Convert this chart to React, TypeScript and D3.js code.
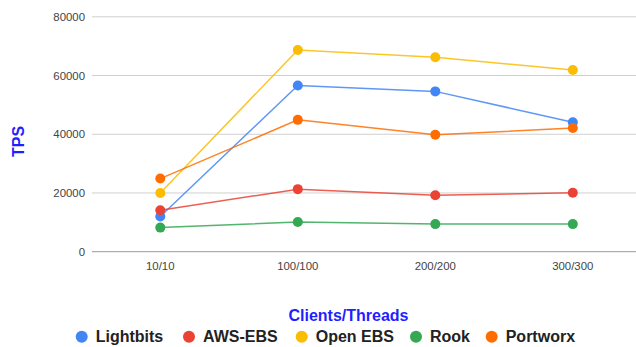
import React from "react";
import * as d3 from "d3";

const categories = ["10/10", "100/100", "200/200", "300/300"];
const seriesNames = ["Lightbits", "AWS-EBS", "Open EBS", "Rook", "Portworx"];
const lightbits = [12000, 56600, 54600, 44100];
const awsEbs = [14100, 21300, 19200, 20100];
const openEbs = [20000, 68700, 66200, 61900];
const rook = [8200, 10100, 9400, 9400];
const portworx = [24900, 44900, 39800, 42100];
const yTicks = [0, 20000, 40000, 60000, 80000];
const colors = ["#4285F4", "#EA4335", "#FBBC04", "#34A853", "#FF6D01"];

const seriesValues = [lightbits, awsEbs, openEbs, rook, portworx];

const W = 636;
const H = 347;
const FONT = "Arial, 'Liberation Sans', Helvetica, sans-serif";

export default function App() {
  const x = d3.scalePoint<string>().domain(categories).range([160.3, 572.8]);
  const y = d3.scaleLinear().domain([0, 80000]).range([251.7, 16.8]);
  const line = d3
    .line<number>()
    .x((_, i) => x(categories[i]) as number)
    .y((d) => y(d));

  const legendX = [81.7, 189, 301.7, 416, 491.7];

  return (
    <svg
      width={W}
      height={H}
      style={{ position: "absolute", left: 0, top: 0, background: "#fff" }}
      fontFamily={FONT}
    >
      {yTicks.map((t) => (
        <g key={t}>
          <line
            x1={92}
            x2={W}
            y1={y(t)}
            y2={y(t)}
            stroke={t === 0 ? "#999" : "#d0d0d0"}
            strokeWidth={1}
          />
          <text
            x={85}
            y={y(t)}
            dy="0.35em"
            textAnchor="end"
            fontSize={11.4}
            fill="#444"
          >
            {t}
          </text>
        </g>
      ))}
      {categories.map((c) => (
        <text
          key={c}
          x={x(c)}
          y={270}
          textAnchor="middle"
          fontSize={11.4}
          fill="#444"
        >
          {c}
        </text>
      ))}
      {seriesValues.map((vals, si) => (
        <g key={seriesNames[si]}>
          <path
            d={line(vals) || ""}
            fill="none"
            stroke={colors[si]}
            strokeWidth={1.5}
            strokeOpacity={0.85}
          />
          {vals.map((v, i) => (
            <circle
              key={i}
              cx={x(categories[i])}
              cy={y(v)}
              r={5}
              fill={colors[si]}
            />
          ))}
        </g>
      ))}
      <text
        transform={`translate(24,141.5) rotate(-90)`}
        textAnchor="middle"
        fontSize={16}
        fontWeight="bold"
        fill="#1f1fff"
      >
        TPS
      </text>
      <text
        x={348.5}
        y={320.5}
        textAnchor="middle"
        fontSize={16}
        fontWeight="bold"
        fill="#1f1fff"
      >
        Clients/Threads
      </text>
      {seriesNames.map((n, i) => (
        <g key={n}>
          <circle cx={legendX[i]} cy={336.7} r={6} fill={colors[i]} />
          <text
            x={legendX[i] + 14}
            y={336.7}
            dy="0.35em"
            fontSize={16}
            fontWeight="bold"
            fill="#222"
          >
            {n}
          </text>
        </g>
      ))}
    </svg>
  );
}
